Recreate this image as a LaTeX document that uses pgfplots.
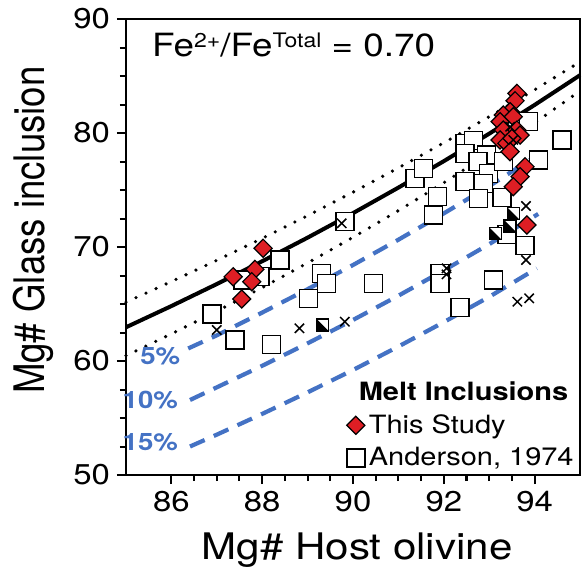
\documentclass[border=0pt]{standalone}
\usepackage{fontspec}
\setmainfont[FakeStretch=1.15]{TeX Gyre Heros}
\newfontfamily\plainfont{TeX Gyre Heros}
\usepackage{graphicx}
\usepackage{pgfplots}
\pgfplotsset{compat=1.18}
\definecolor{dred}{RGB}{222,30,36}
\definecolor{lblue}{RGB}{68,114,196}
\pgfdeclareplotmark{halfsq}{%
 \pgfpathrectangle{\pgfqpoint{-\pgfplotmarksize}{-\pgfplotmarksize}}{\pgfqpoint{2\pgfplotmarksize}{2\pgfplotmarksize}}%
 \pgfsetfillcolor{white}\pgfusepath{fill}%
 \pgfpathmoveto{\pgfqpoint{-\pgfplotmarksize}{\pgfplotmarksize}}%
 \pgfpathlineto{\pgfqpoint{-\pgfplotmarksize}{-\pgfplotmarksize}}%
 \pgfpathlineto{\pgfqpoint{\pgfplotmarksize}{-\pgfplotmarksize}}%
 \pgfpathclose
 \pgfsetfillcolor{black}\pgfusepath{fill}%
 \pgfpathrectangle{\pgfqpoint{-\pgfplotmarksize}{-\pgfplotmarksize}}{\pgfqpoint{2\pgfplotmarksize}{2\pgfplotmarksize}}%
 \pgfusepath{stroke}%
}
\newcommand{\sups}[1]{\raisebox{4.6pt}{\fontsize{10}{12}\selectfont #1}}
\begin{document}
\begin{tikzpicture}
\path[use as bounding box] (-63pt,-50pt) rectangle (229pt,237.5pt);
\begin{axis}[
 scale only axis, width=227pt, height=228pt,
 xmin=85, xmax=95, ymin=50, ymax=90,
 xtick={86,88,90,92,94}, ytick={50,60,70,80,90},
 minor x tick num=3, minor y tick num=3,
 tick pos=left, tick align=outside,
 major tick length=4.5pt, minor tick length=3pt,
 every tick/.style={black, line width=1pt},
 axis line style={line width=1.1pt},
 tick label style={font=\fontsize{14.3}{17}\selectfont},
 /pgf/number format/assume math mode=true,
 xlabel={Mg\# Host olivine}, ylabel={\scalebox{1}[1.15]{\plainfont Mg\# Glass inclusion}},
 label style={font=\fontsize{18.3}{22}\selectfont},
 xlabel style={at={(rel axis cs:0.509,-0.164)}, anchor=center},
 ylabel style={at={(rel axis cs:-0.205,0.537)}, anchor=center},
 clip=false,
 legend cell align=left,
 legend style={at={(rel axis cs:1,0)}, anchor=south east, draw=none, fill=none,
   font=\fontsize{12.6}{14.5}\selectfont, inner sep=1pt, row sep=1.5pt},
]
\addlegendimage{empty legend}
\addlegendentry{\hspace{-5pt}\textbf{Melt Inclusions}}
\addlegendimage{only marks, mark=square*, mark size=3.2pt, mark options={rotate=45, fill=dred, draw=black, line width=0.6pt}}
\addlegendentry{This Study}
\addlegendimage{only marks, mark=square*, mark size=4.5pt, mark options={fill=white, draw=black, line width=0.7pt}}
\addlegendentry{Anderson, 1974}

% equilibrium curves
\addplot[forget plot, black, line width=2pt] coordinates {
(85,62.96) (86,64.82) (87,66.75) (88,68.75) (89,70.82) (90,72.97) (91,75.21) (92,77.53) (93,79.94) (94,82.46) (95,85.07)};
\addplot[forget plot, black, line width=1.8pt, line cap=round, dash pattern=on 0pt off 5.5pt] coordinates {
(85,65.16) (86,66.97) (87,68.83) (88,70.76) (89,72.75) (90,74.81) (91,76.94) (92,79.14) (93,81.43) (94,83.79) (95,86.24)};
\addplot[forget plot, black, line width=1.8pt, line cap=round, dash pattern=on 0pt off 5.5pt] coordinates {
(85,60.47) (86,62.38) (87,64.37) (88,66.44) (89,68.60) (90,70.85) (91,73.19) (92,75.64) (93,78.20) (94,80.88) (95,83.69)};
% crystallization lines
\addplot[forget plot, lblue, line width=2.1pt, dash pattern=on 8pt off 5pt] coordinates {
(86.37,61.1) (87,62.25) (88,64.25) (89,66.3) (90,68.42) (91,70.64) (92,72.95) (93,75.34) (94.0,77.9)};
\addplot[forget plot, lblue, line width=2.1pt, dash pattern=on 8pt off 5pt] coordinates {
(86.41,56.58) (87,57.69) (88,59.58) (89,61.55) (90,63.6) (91,65.73) (92,67.95) (93,70.25) (94.08,72.9)};
\addplot[forget plot, lblue, line width=2.1pt, dash pattern=on 8pt off 5pt] coordinates {
(86.41,52.5) (87,53.54) (88,55.36) (89,57.25) (90,59.21) (91,61.27) (92,63.41) (93,65.63) (94.05,68.13)};

% Anderson 1974 squares
\addplot[forget plot, only marks, mark=square*, mark size=4.5pt, mark options={fill=white, draw=black, line width=0.7pt}] coordinates {
(86.89,64.12) (87.40,61.84) (88.21,61.46) (88.39,68.86) (87.95,67.4) (87.58,67.1)
(89.31,67.69) (89.42,66.81) (89.02,65.5) (90.45,66.81) (91.92,67.69) (91.92,66.81)
(92.36,64.71) (93.09,67.1) (93.79,70.15) (93.39,71.1) (89.82,72.22) (91.37,76.03)
(91.55,76.9) (92.47,79.1) (92.65,79.33) (92.47,78.2) (92.94,78.07) (92.75,77.48)
(92.98,76.46) (92.47,75.73) (92.87,75.59) (91.86,74.41) (92.76,74.27) (93.28,74.36)
(91.77,72.81) (93.31,77.48) (93.86,81.0) (94.6,79.39) (94.08,77.63)};
% half-filled squares
\addplot[forget plot, only marks, mark=halfsq, mark size=3pt, mark options={draw=black, line width=0.6pt}] coordinates {
(89.33,63.16) (93.53,72.96) (93.13,71.2) (93.46,71.84)};
% This study diamonds
\addplot[forget plot, only marks, mark=square*, mark size=3.2pt, mark options={rotate=45, fill=dred, draw=black, line width=0.6pt}] coordinates {
(87.36,67.39) (88.02,69.89) (87.84,68.04) (87.77,66.96) (87.55,65.44)
(93.61,83.48) (93.57,82.83) (93.46,81.87) (93.31,81.58) (93.24,81.0) (93.53,81.43)
(93.31,80.26) (93.61,80.26) (93.68,79.82) (93.24,79.39) (93.39,79.1) (93.50,79.53)
(93.46,78.36) (93.79,77.04) (93.68,76.17) (93.53,75.29) (93.83,71.93)};
% crosses
\addplot[forget plot, only marks, mark=x, mark size=3.3pt, mark options={draw=black, line width=0.75pt}] coordinates {
(93.81,73.6) (93.81,68.86) (92.06,68.13) (92.06,67.6) (93.62,65.2) (93.88,65.5)
(87.0,62.72) (88.82,62.87) (89.82,63.45) (89.75,72.08) (93.46,80.55) (93.53,79.4)};

\node[anchor=base west, inner sep=0pt, font=\fontsize{16}{19}\selectfont] at (rel axis cs:0.0566,0.9173) {Fe\sups{2+}/Fe\sups{Total} = 0.70};
\node[anchor=east, text=lblue, font=\fontsize{12}{14}\selectfont\bfseries] at (axis cs:86.35,60.4) {5\%};
\node[anchor=east, text=lblue, font=\fontsize{12}{14}\selectfont\bfseries] at (axis cs:86.3,56.6) {10\%};
\node[anchor=east, text=lblue, font=\fontsize{12}{14}\selectfont\bfseries] at (axis cs:86.3,52.9) {15\%};
\end{axis}
\end{tikzpicture}
\end{document}
